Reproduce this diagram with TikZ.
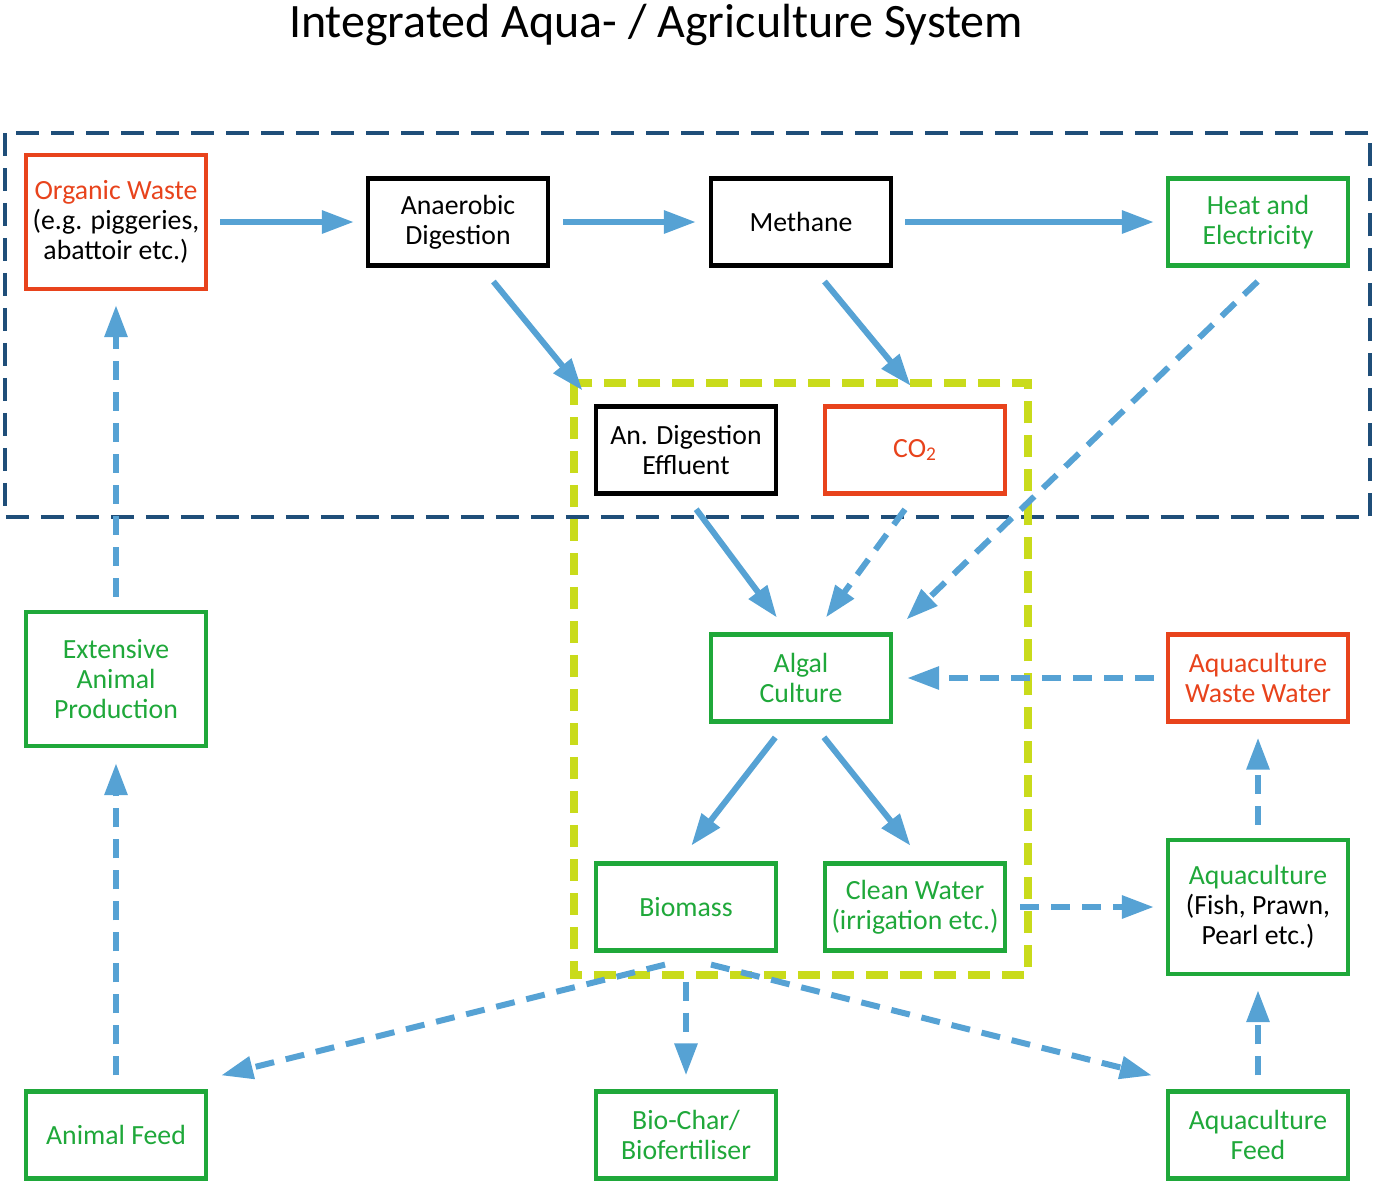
\documentclass[tikz,border=0pt]{standalone}
\usepackage{fontspec}
\setmainfont{Carlito}
\usetikzlibrary{arrows.meta}
\definecolor{flowblue}{HTML}{56A2D4}
\definecolor{boxgreen}{HTML}{1FA83A}
\definecolor{boxred}{HTML}{E8431C}
\definecolor{framenavy}{HTML}{1F4E79}
\definecolor{framelime}{HTML}{C9DB1B}

\begin{document}
\begin{tikzpicture}[
		x=0.02cm, y=-0.02cm, line join=miter,
		every node/.style={font=\fontsize{15.8}{17}\selectfont, align=center},
		box/.style={draw, line width=0.085cm, fill=white, minimum width=3.6cm, minimum height=1.74cm, inner sep=0pt},
		tallbox/.style={box, minimum height=2.68cm},
		greenbox/.style={box, draw=boxgreen, text=boxgreen},
		redbox/.style={box, draw=boxred, text=boxred},
		flow/.style={draw=flowblue, line width=0.12cm, -{Triangle[length=0.64cm, width=0.44cm]}},
		dflow/.style={flow, dash pattern=on 0.38cm off 0.24cm}
		]
		\useasboundingbox (0,0) rectangle (1375,1184);
		
		% 1. TITLE
		\node[font=\fontsize{27.3}{32}\selectfont] (title) at (656,25) {Integrated Aqua- / Agriculture System};
		
		% 2. DASHED FRAMES
		\draw[framenavy, line width=0.08cm, dash pattern=on 0.46cm off 0.24cm] (5,133) rectangle (1370,517);
		\draw[framelime, line width=0.16cm, dash pattern=on 0.44cm off 0.24cm] (574,383) rectangle (1028,975);
		
		% 3. BOXES
		\node[box, tallbox, draw=boxred] (ow) at (116,222) {\textcolor{boxred}{Organic Waste}\\(e.g. piggeries,\\abattoir etc.)};
		\node[box] (ad) at (458,222) {Anaerobic\\Digestion};
		\node[box] (meth) at (801,222) {Methane};
		\node[greenbox] (heat) at (1258,222) {Heat and\\Electricity};
		\node[box] (eff) at (686,450) {An. Digestion\\Effluent};
		\node[redbox] (co2) at (915,450) {CO\textsubscript{2}};
		\node[greenbox] (algal) at (801,678) {Algal\\Culture};
		\node[redbox] (aww) at (1258,678) {Aquaculture\\Waste Water};
		\node[greenbox, minimum height=2.68cm] (eap) at (116,679) {Extensive\\Animal\\Production};
		\node[greenbox] (biom) at (686,907) {Biomass};
		\node[greenbox] (clean) at (915,907) {Clean Water\\(irrigation etc.)};
		\node[box, tallbox, draw=boxgreen] (aqua) at (1258,907) {\textcolor{boxgreen}{Aquaculture}\\(Fish, Prawn,\\Pearl etc.)};
		\node[greenbox] (afeed) at (116,1135) {Animal Feed};
		\node[greenbox] (biochar) at (686,1135) {Bio-Char/\\Biofertiliser};
		\node[greenbox] (aqfeed) at (1258,1135) {Aquaculture\\Feed};
		
		% 4. SOLID ARROWS
		\draw[flow, shorten <=0.24cm, shorten >=0.24cm] (ow) -- (ad);
		\draw[flow, shorten <=0.26cm, shorten >=0.26cm] (ad) -- (meth);
		\draw[flow, shorten <=0.24cm, shorten >=0.24cm] (meth) -- (heat);
		\draw[flow, shorten <=0.36cm, shorten >=0.36cm] ([xshift=0.48cm]ad.south) -- (eff.north west);
		\draw[flow, shorten <=0.36cm, shorten >=0.48cm] ([xshift=0.24cm]meth.south) -- ([xshift=0.22cm]co2.north);
		\draw[flow, shorten <=0.34cm, shorten >=0.37cm] (eff.south) -- ([xshift=-0.26cm]algal.north);
		\draw[flow, shorten <=0.35cm, shorten >=0.4cm] ([xshift=-0.3cm]algal.south) -- ([xshift=-0.14cm]biom.north);
		\draw[flow, shorten <=0.35cm, shorten >=0.4cm] ([xshift=0.24cm]algal.south) -- ([xshift=0.16cm]clean.north);
		
		% 5. DASHED ARROWS
		\draw[dflow, shorten <=0.4cm, shorten >=0.37cm] ([xshift=0.28cm]heat.south) -- (algal.north east);
		\draw[dflow, shorten <=0.34cm, shorten >=0.37cm] (co2.south) -- ([xshift=0.28cm]algal.north);
		\draw[dflow, shorten <=0.24cm, shorten >=0.28cm] (aww) -- (algal);
		\draw[dflow, shorten <=0.26cm, shorten >=0.24cm] (clean) -- (aqua);
		\draw[dflow, shorten <=0.26cm, shorten >=0.28cm] (aqua) -- (aww);
		\draw[dflow, shorten <=0.28cm, shorten >=0.28cm] (aqfeed) -- (aqua);
		\draw[dflow, shorten <=0.28cm, shorten >=0.3cm] (afeed) -- (eap);
		\draw[dflow, shorten <=0.26cm, shorten >=0.28cm] (eap) -- (ow);
		\draw[dflow] ([xshift=-0.42cm, yshift=-0.24cm]biom.south) -- ([xshift=0.26cm, yshift=0.28cm]afeed.north east);
		\draw[dflow, shorten <=0.58cm, shorten >=0.28cm] (biom) -- (biochar);
		\draw[dflow] ([xshift=0.5cm, yshift=-0.24cm]biom.south) -- ([xshift=-0.28cm, yshift=0.28cm]aqfeed.north west);
		
\end{tikzpicture}
\end{document}
